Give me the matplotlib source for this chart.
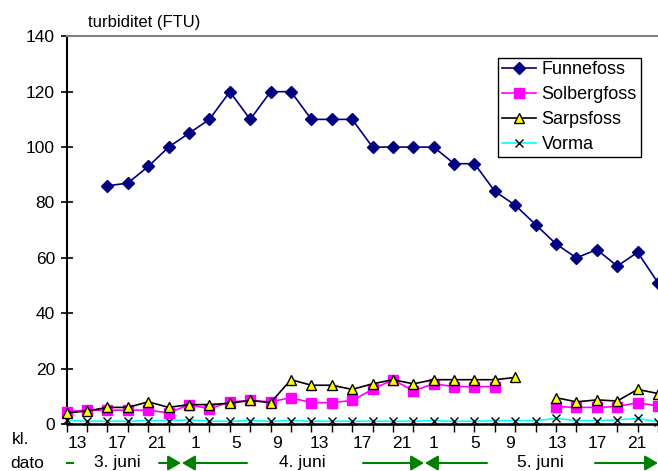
import numpy as np
import matplotlib
matplotlib.use("Agg")
import matplotlib.pyplot as plt

plt.rcParams['font.family'] = ['Liberation Sans', 'DejaVu Sans']

# --- data (every 2 hours, 3.-5. juni) ---
hours = list(range(30))
funnefoss = [None, None, 86, 87, 93, 100, 105, 110, 120, 110, 120, 120, 110, 110, 110,
             100, 100, 100, 100, 94, 94, 84, 79, 72, 65, 60, 63, 57, 62, 51]
solbergfoss = [4.5, 5, 5, 5, 5, 4, 7, 5.5, 8, 8.5, 8, 9.5, 7.7, 7.7, 8.5,
               12.5, 16, 12, 14.5, 13.5, 13.5, 13.5, None, None, 6.3, 6, 6, 6.3, 7.7, 6.5]
sarpsfoss = [4, 4.7, 6, 6, 8, 6, 7, 7, 7.5, 8.5, 7.7, 16, 14, 14, 12.5,
             14.5, 16, 14.5, 16, 16, 16, 16, 16.8, None, 9.5, 8, 8.7, 8.3, 12.5, 11]
vorma = [1.3, 1, 1, 1, 1.2, 1.2, 1.5, 1, 1, 1.2, 1, 1.2, 1, 1, 1,
         1, 1, 1, 1.2, 1, 1, 1.2, 1.2, 1.2, 2, 1.2, 1.2, 1.5, 2, 0.8]

kl_pos = [0.5, 2.5, 4.4, 6.3, 8.3, 10.3, 12.4, 14.5, 16.45, 18.0, 20.05, 21.75, 24.05, 26.0, 27.95]
kl_labels = ['13', '17', '21', '1', '5', '9', '13', '17', '21', '1', '5', '9', '13', '17', '21']
dato_labels = ['3. juni', '4. juni', '5. juni']


def arr(v):
    return np.array([np.nan if x is None else x for x in v], dtype=float)


W, H = 658, 471
fig = plt.figure(figsize=(W / 100, H / 100), dpi=100)
ax = fig.add_axes([66.7 / W, 47 / H, 1 - 66.7 / W, (424 - 36.3) / H])

ax.plot(hours, arr(funnefoss), color='#000080', lw=1.2, marker='D', ms=5.8,
        mec='#000080', mfc='#000080', label='Funnefoss', clip_on=False, zorder=5)
ax.plot(hours, arr(solbergfoss), color='#FF00FF', lw=1.2, marker='s', ms=6.5,
        mec='#FF00FF', mfc='#FF00FF', label='Solbergfoss', clip_on=False, zorder=4)
ax.plot(hours, arr(sarpsfoss), color='black', lw=1.2, marker='^', ms=6.5,
        mec='black', mfc='#FFFF00', mew=1.0, label='Sarpsfoss', clip_on=False, zorder=6)
ax.plot(hours, arr(vorma), color='#00FFFF', lw=1.2, marker='x', ms=6,
        mec='black', mew=1.0, label='Vorma', clip_on=False, zorder=3)

ax.set_xlim(0, 29)
ax.set_ylim(0, 140)
ax.set_yticks(np.arange(0, 141, 20))
ax.tick_params(axis='y', direction='inout', length=9, width=1.2, labelsize=12.5, pad=4)

ax.set_xticks(kl_pos)
ax.set_xticklabels(kl_labels)
ax.set_xticks(hours, minor=True)
ax.tick_params(axis='x', which='major', length=0, labelsize=12.5, pad=9)
ax.tick_params(axis='x', which='minor', direction='out', length=6, width=1.0)

ax.spines['right'].set_visible(False)
ax.spines['top'].set_color('#808080')
ax.spines['top'].set_linewidth(1.5)
ax.spines['left'].set_linewidth(1.5)
ax.spines['bottom'].set_linewidth(1.8)

leg = ax.legend(loc='upper left', bbox_to_anchor=(0.73, 0.945), fontsize=13,
                fancybox=False, edgecolor='black', framealpha=1,
                handlelength=1.9, handletextpad=0.3, labelspacing=0.44,
                borderpad=0.2, borderaxespad=0)
leg.get_frame().set_linewidth(1.0)

fig.text(88 / W, 1 - 27 / H, 'turbiditet (FTU)', fontsize=12, va='baseline', ha='left')
fig.text(12 / W, 1 - 440 / H, 'kl.', fontsize=12.5, va='center', ha='left')
fig.text(10 / W, 1 - 463 / H, 'dato', fontsize=12.5, va='center', ha='left')

green = '#008000'
ydate = 1 - 463 / H
fig.text(117 / W, ydate, dato_labels[0], fontsize=12.5, va='center', ha='center')
fig.text(302 / W, ydate, dato_labels[1], fontsize=12.5, va='center', ha='center')
fig.text(540 / W, ydate, dato_labels[2], fontsize=12.5, va='center', ha='center')

# short dash before 3. juni
fig.lines.append(plt.Line2D([67 / W, 73 / W], [ydate, ydate], color=green, lw=1.5,
                            transform=fig.transFigure))

arrows = [(159, 181), (247, 182), (363, 424), (487, 425), (595, 658)]
for x0, x1 in arrows:
    fig.add_artist(matplotlib.patches.FancyArrowPatch(
        (x0 / W, ydate), (x1 / W, ydate), transform=fig.transFigure,
        arrowstyle='-|>,head_length=0.6,head_width=0.35', mutation_scale=13,
        color=green, lw=1.5, shrinkA=0, shrinkB=0))

fig.savefig('out.png', dpi=100)
